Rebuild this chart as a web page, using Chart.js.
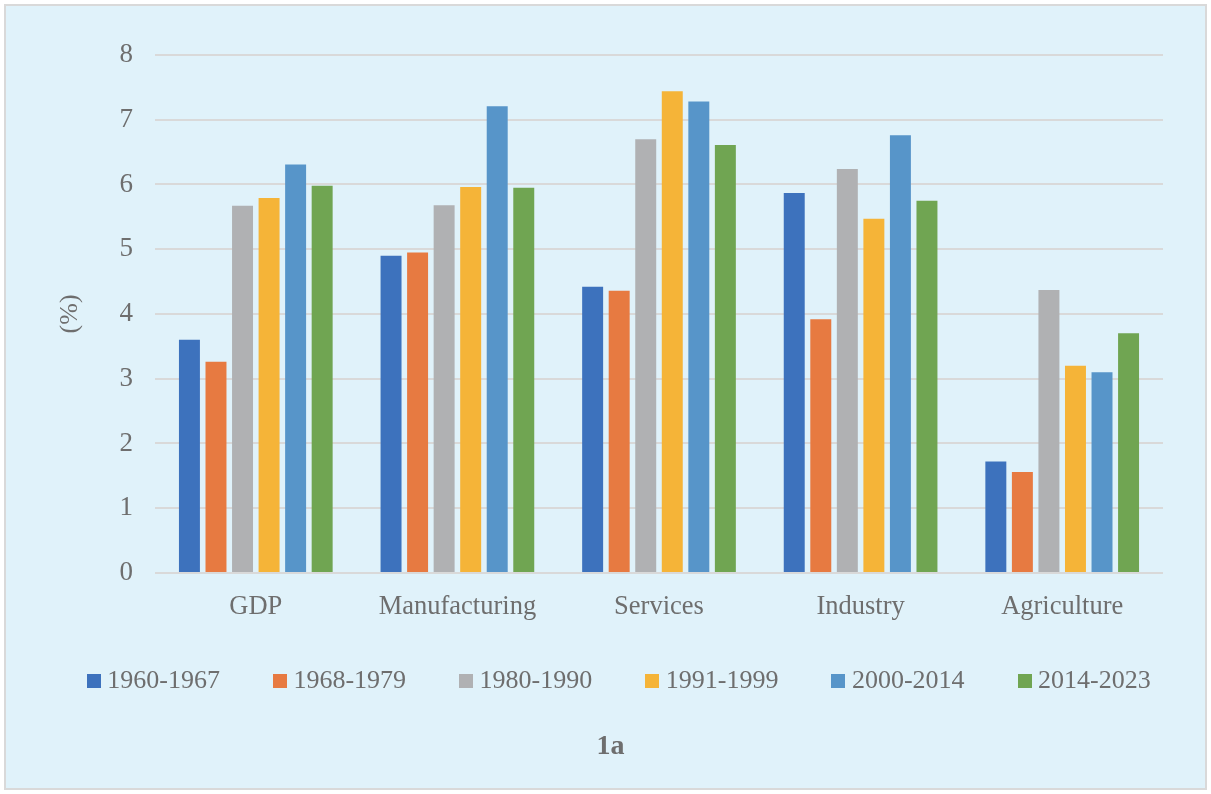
<!DOCTYPE html>
<html>
<head>
<meta charset="utf-8">
<script src="https://cdn.jsdelivr.net/npm/chart.js@4"></script>
<style>
  html, body { margin: 0; padding: 0; background: #ffffff; }
  #wrap { position: absolute; left: 0; top: 0; width: 1211px; height: 794px; }
</style>
</head>
<body>
<div id="wrap"><canvas id="c" width="1211" height="794"></canvas></div>
<script>
// Sectors on the x axis
const categories = ['GDP', 'Manufacturing', 'Services', 'Industry', 'Agriculture'];

// Average annual growth (%) per period
const periods = ['1960-1967', '1968-1979', '1980-1990', '1991-1999', '2000-2014', '2014-2023'];
const p1960_1967 = [3.60, 4.90, 4.42, 5.87, 1.72];
const p1968_1979 = [3.26, 4.95, 4.36, 3.92, 1.56];
const p1980_1990 = [5.67, 5.68, 6.70, 6.24, 4.37];
const p1991_1999 = [5.79, 5.96, 7.44, 5.47, 3.20];
const p2000_2014 = [6.31, 7.21, 7.28, 6.76, 3.10];
const p2014_2023 = [5.98, 5.95, 6.61, 5.75, 3.70];

const yTicks = [0, 1, 2, 3, 4, 5, 6, 7, 8];
const chartTitle = '1a';
const yTitle = '(%)';

const seriesValues = [p1960_1967, p1968_1979, p1980_1990, p1991_1999, p2000_2014, p2014_2023];
const colors = ['#3d72bd', '#e77a41', '#b0b1b3', '#f5b438', '#5795c9', '#70a552'];

const FONT = '"Liberation Serif", "Times New Roman", serif';
const TEXT = '#6e6e6e';

// Small square swatches used as legend markers
const swatches = colors.map(c => {
  const cv = document.createElement('canvas');
  cv.width = 14; cv.height = 14;
  const g = cv.getContext('2d');
  g.fillStyle = c;
  g.fillRect(0, 0, 14, 14);
  return cv;
});

// Panel background and frame
const panel = {
  id: 'panel',
  beforeDraw(chart) {
    const ctx = chart.ctx;
    ctx.save();
    ctx.fillStyle = '#ffffff';
    ctx.fillRect(0, 0, chart.width, chart.height);
    ctx.fillStyle = '#e0f2fa';
    ctx.fillRect(5, 5, chart.width - 10, chart.height - 10);
    ctx.strokeStyle = '#d9d9d9';
    ctx.lineWidth = 2;
    ctx.strokeRect(5, 5, chart.width - 10, chart.height - 10);
    ctx.restore();
  }
};

// Placement tweaks after layout: let the category labels extend below the
// axis box, and centre the caption under the plot rather than the padded box.
const placement = {
  id: 'placement',
  afterLayout(chart) {
    const x = chart.scales.x;
    x.bottom += 14;
    x.height += 14;
    const t = chart.titleBlock;
    if (t) { t.left -= 11.5; t.right -= 11.5; }
  }
};

new Chart(document.getElementById('c'), {
  type: 'bar',
  data: {
    labels: categories,
    datasets: periods.map((p, i) => ({
      label: p,
      data: seriesValues[i],
      backgroundColor: colors[i],
      borderWidth: 0,
      categoryPercentage: 0.79,
      barPercentage: 0.79
    }))
  },
  options: {
    responsive: false,
    animation: false,
    devicePixelRatio: 1,
    layout: { padding: { left: 33, right: 0, top: 55, bottom: 26 } },
    plugins: {
      legend: {
        position: 'bottom',
        labels: {
          font: { family: FONT, size: 26 },
          color: TEXT,
          usePointStyle: true,
          pointStyleWidth: 1,
          padding: 59.5,
          generateLabels(chart) {
            const items = Chart.defaults.plugins.legend.labels.generateLabels(chart);
            items.forEach((it, i) => { it.pointStyle = swatches[i]; });
            return items;
          }
        }
      },
      title: {
        display: true,
        text: chartTitle,
        position: 'bottom',
        color: TEXT,
        font: { family: FONT, size: 28, weight: 'bold' },
        padding: { top: 26, bottom: 4 }
      },
      tooltip: { enabled: false }
    },
    scales: {
      x: {
        grid: { display: false },
        border: { display: false },
        ticks: { color: TEXT, font: { family: FONT, size: 26.5 }, padding: 10 },
        afterFit(axis) { axis.height = 36; }
      },
      y: {
        min: 0,
        max: 8,
        afterBuildTicks(axis) { axis.ticks = yTicks.map(v => ({ value: v })); },
        grid: { color: '#d9d9d9', lineWidth: 2, drawTicks: false },
        border: { display: false },
        ticks: { color: TEXT, font: { family: FONT, size: 27 }, padding: 22 },
        title: {
          display: true,
          text: yTitle,
          color: TEXT,
          font: { family: FONT, size: 26 },
          padding: { top: 22, bottom: 4 }
        },
        afterFit(axis) { axis.width = 122; }
      },
      // empty right-hand spacer keeping the plot clear of the frame
      yRight: {
        position: 'right',
        display: true,
        grid: { display: false },
        border: { display: false },
        ticks: { display: false },
        afterFit(axis) { axis.width = 48; }
      }
    }
  },
  plugins: [panel, placement]
});
</script>
</body>
</html>
